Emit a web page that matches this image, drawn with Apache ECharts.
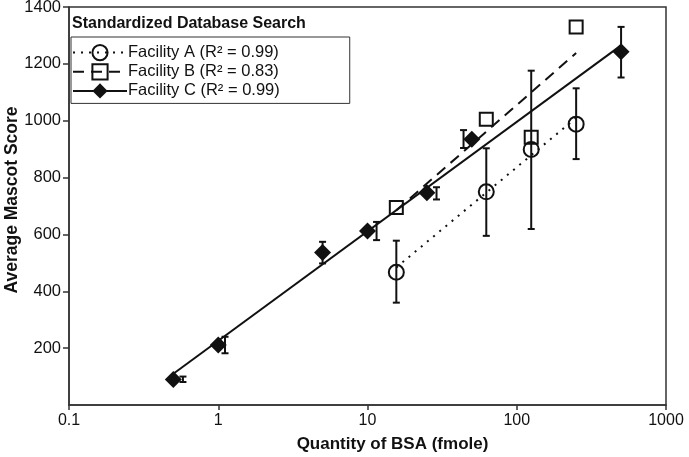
<!DOCTYPE html>
<html>
<head>
<meta charset="utf-8">
<script src="https://cdn.jsdelivr.net/npm/echarts@6/dist/echarts.min.js"></script>
<style>html,body{margin:0;padding:0;background:#fff}#c{width:689px;height:457px}</style>
</head>
<body>
<div id="c"></div>
<script>
// ---- data ----
const xTicks = ['0.1', '1', '10', '100', '1000'];
const nameA = 'Facility A (R\u00B2 = 0.99)';
const nameB = 'Facility B (R\u00B2 = 0.83)';
const nameC = 'Facility C (R\u00B2 = 0.99)';

const xA = [15.6, 62.5, 125, 250];
const yA = [467, 750, 899, 988];
const errA = [[15.6, 360, 578], [62.5, 595, 903], [125, 619, 1176], [250, 865, 1114]];
const trendA = [[15.6, 484], [250, 1010]];

const xB = [15.6, 62.5, 125, 250];
const yB = [695, 1005, 942, 1330];
const trendB = [[15.6, 685], [250, 1238]];

const xC = [0.5, 1, 5, 10, 25, 50, 500];
const yC = [90, 211, 536, 612, 747, 935, 1243];
const errC = [[0.58, 81, 100], [1.11, 182, 240], [5, 498, 574], [11.5, 580, 644], [29, 723, 766], [44, 904, 967], [500, 1152, 1330]];
const trendC = [[0.5, 110], [500, 1265]];

const zip = (xs, ys) => xs.map((x, i) => [x, ys[i]]);
const INK = '#111';
const FONT = 'Liberation Sans';

function errItem(params, api) {
  const x = api.value(0), lo = api.value(1), hi = api.value(2);
  const p1 = api.coord([x, lo]), p2 = api.coord([x, hi]);
  const w = 3.5;
  const st = { stroke: INK, lineWidth: 2 };
  return { type: 'group', children: [
    { type: 'line', shape: { x1: p1[0], y1: p1[1], x2: p2[0], y2: p2[1] }, style: st },
    { type: 'line', shape: { x1: p1[0] - w, y1: p1[1], x2: p1[0] + w, y2: p1[1] }, style: st },
    { type: 'line', shape: { x1: p2[0] - w, y1: p2[1], x2: p2[0] + w, y2: p2[1] }, style: st }
  ]};
}

const chart = echarts.init(document.getElementById('c'), null, { renderer: 'canvas' });
chart.setOption({
  animation: false,
  backgroundColor: '#fff',
  textStyle: { fontFamily: FONT },
  title: {
    text: 'Standardized Database Search',
    left: 72, top: 16,
    padding: 0,
    textStyle: { fontFamily: FONT, fontSize: 16, fontWeight: 'bold', color: INK }
  },
  legend: {
    orient: 'vertical',
    left: 71, top: 37,
    padding: [7, 70, 4, 1],
    itemWidth: 54, itemHeight: 19, itemGap: 2,
    borderColor: '#333', borderWidth: 1,
    selectedMode: false,
    data: [nameA, nameB, nameC],
    textStyle: { fontFamily: FONT, fontSize: 16.5, color: INK, padding: [0, 0, 0, -4] }
  },
  grid: {
    left: 69, right: 23, top: 7, bottom: 52,
    outerBoundsMode: 'none', containLabel: false,
    show: true, borderColor: '#333', borderWidth: 1.5
  },
  xAxis: {
    type: 'log', logBase: 10, min: 0.1, max: 1000,
    name: 'Quantity of BSA (fmole)', nameLocation: 'middle', nameGap: 31,
    nameTextStyle: { fontFamily: FONT, fontSize: 17, fontWeight: 'bold', color: INK, padding: [0, 0, 0, 50] },
    axisLine: { show: true, onZero: false, lineStyle: { color: '#333', width: 1.5 } },
    axisTick: { show: true, inside: false, length: 5, lineStyle: { color: '#333', width: 1.5 } },
    minorTick: { show: false },
    splitLine: { show: false },
    axisLabel: { fontFamily: FONT, fontSize: 16, color: INK, margin: 8,
      formatter: v => { const i = Math.round(Math.log10(v)) + 1; return xTicks[i] !== undefined ? xTicks[i] : String(v); } }
  },
  yAxis: {
    type: 'value', min: 0, max: 1400, interval: 200,
    name: 'Average Mascot Score', nameLocation: 'middle', nameGap: 48, nameMoveOverlap: false,
    nameTextStyle: { fontFamily: FONT, fontSize: 17.5, fontWeight: 'bold', color: INK, padding: [0, 0, 0, 12] },
    axisLine: { show: true, lineStyle: { color: '#333', width: 1.5 } },
    axisTick: { show: true, inside: false, length: 6, lineStyle: { color: '#333', width: 1.5 } },
    splitLine: { show: false },
    axisLabel: { fontFamily: FONT, fontSize: 16.5, color: INK, margin: 8, showMinLabel: false,
      formatter: v => String(v) }
  },
  series: [
    { name: nameA, type: 'line', data: trendA, showSymbol: false, symbol: 'circle', symbolSize: 15,
      itemStyle: { color: 'rgba(0,0,0,0)', borderColor: INK, borderWidth: 2, opacity: 1 },
      lineStyle: { color: INK, width: 2, type: [2, 6] }, z: 2, silent: true },
    { name: nameB, type: 'line', data: trendB, showSymbol: false, symbol: 'rect', symbolSize: 13,
      itemStyle: { color: 'rgba(0,0,0,0)', borderColor: INK, borderWidth: 2, opacity: 1 },
      lineStyle: { color: INK, width: 2, type: [11, 7] }, z: 2, silent: true },
    { name: nameC, type: 'line', data: trendC, showSymbol: false, symbol: 'diamond', symbolSize: 17,
      itemStyle: { color: INK, borderColor: INK, borderWidth: 0, opacity: 1 },
      lineStyle: { color: INK, width: 2, type: 'solid' }, z: 2, silent: true },
    { name: 'A points', type: 'scatter', data: zip(xA, yA), symbol: 'circle', symbolSize: 15,
      itemStyle: { color: 'rgba(0,0,0,0)', borderColor: INK, borderWidth: 2, opacity: 1 }, z: 3 },
    { name: 'B points', type: 'scatter', data: zip(xB, yB), symbol: 'rect', symbolSize: 13,
      itemStyle: { color: 'rgba(0,0,0,0)', borderColor: INK, borderWidth: 2, opacity: 1 }, z: 3 },
    { name: 'C points', type: 'scatter', data: zip(xC, yC), symbol: 'diamond', symbolSize: 17,
      itemStyle: { color: INK, opacity: 1 }, z: 3 },
    { name: 'A err', type: 'custom', data: errA, renderItem: errItem, encode: { x: 0, y: [1, 2] }, z: 4 },
    { name: 'C err', type: 'custom', data: errC, renderItem: errItem, encode: { x: 0, y: [1, 2] }, z: 4 }
  ]
});
</script>
</body>
</html>
